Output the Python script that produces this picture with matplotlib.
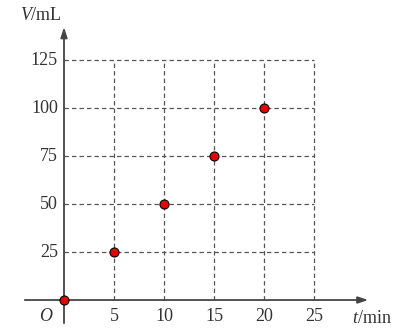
import matplotlib
matplotlib.use("Agg")
import matplotlib.pyplot as plt

plt.rcParams["mathtext.fontset"] = "custom"
plt.rcParams["mathtext.rm"] = "Liberation Serif"
plt.rcParams["mathtext.it"] = "Liberation Serif:italic"

t_vals = [0, 5, 10, 15, 20]
v_vals = [0, 25, 50, 75, 100]
x_ticks = [5, 10, 15, 20, 25]
y_ticks = [25, 50, 75, 100, 125]

fig = plt.figure(figsize=(3.99, 3.34), dpi=100)
ax = fig.add_axes([0, 0, 1, 1])
ax.set_xlim(-6.4, 33.5)
ax.set_ylim(-17.7, 156.25)
ax.axis("off")

grid_c = "#555555"
for x in x_ticks:
    ax.plot([x, x], [0, 125], ls=(0, (3.5, 2.5)), color=grid_c, lw=0.9)
for y in y_ticks:
    ax.plot([0, 25], [y, y], ls=(0, (3.5, 2.5)), color=grid_c, lw=0.9)

ax_c = "#444444"
ax.annotate("", xy=(30.7, 0), xytext=(-4.2, 0),
            arrowprops=dict(arrowstyle="-|>,head_length=0.6,head_width=0.2", color=ax_c, lw=1.3))
ax.annotate("", xy=(0, 143.5), xytext=(0, -13.5),
            arrowprops=dict(arrowstyle="-|>,head_length=0.6,head_width=0.2", color=ax_c, lw=1.3))

font = dict(family="Liberation Serif", fontsize=13, color="#333333")
for x in x_ticks:
    ax.text(x, -4.2, str(x), ha="center", va="top", **font)
for y in y_ticks:
    ax.text(-0.6, y, str(y), ha="right", va="center", **font)
ax.text(-1.2, -4.2, "O", ha="right", va="top", style="italic", **font)
ax.text(-0.2, 143.5, "$\\mathit{V}$/mL", ha="right", va="bottom", **font)
ax.text(28.8, -5, "$\\mathit{t}$/min", ha="left", va="top", **font)

ax.plot(t_vals, v_vals, "o", color="#ee0000", markeredgecolor="black",
        markeredgewidth=0.8, markersize=6.5, clip_on=False, zorder=5)

fig.savefig("out.png", dpi=100)
